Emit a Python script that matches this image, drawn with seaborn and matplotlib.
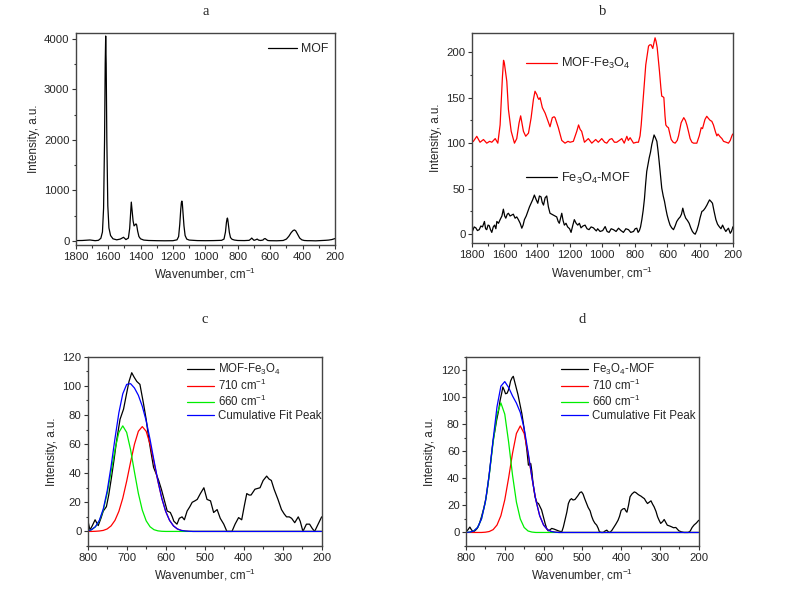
import matplotlib
matplotlib.use('Agg')
import matplotlib.pyplot as plt
from matplotlib.ticker import MultipleLocator, AutoMinorLocator
import seaborn as sns

# ---------- data ----------
# (a) MOF
mof_wn = [1800, 1760, 1712, 1680, 1660, 1645, 1635, 1628, 1622, 1618, 1615, 1612, 1608, 1602,
          1595, 1585, 1570, 1547, 1525, 1505, 1490, 1475, 1467, 1461, 1457, 1452, 1446, 1440,
          1434, 1428, 1424, 1418, 1410, 1400, 1380, 1350, 1300, 1250, 1200, 1175, 1165, 1158,
          1152, 1148, 1145, 1142, 1138, 1132, 1125, 1115, 1100, 1050, 1000, 950, 900, 885, 876,
          870, 866, 864, 862, 858, 852, 845, 835, 820, 800, 760, 730, 720, 714, 708, 700, 690,
          680, 672, 660, 645, 637, 631, 625, 615, 600, 560, 520, 500, 485, 470, 458, 450, 442,
          430, 418, 405, 390, 370, 350, 320, 290, 260, 240, 220, 210, 200]
mof_int = [10, 12, 22, 8, 15, 55, 180, 650, 2000, 3500, 4050, 3500, 2000, 700,
           260, 110, 45, 25, 40, 75, 30, 60, 250, 560, 770, 600, 400, 300,
           320, 340, 320, 200, 90, 45, 20, 12, 8, 6, 8, 25, 90, 330,
           620, 760, 790, 740, 560, 300, 110, 40, 20, 10, 8, 10, 15, 40, 180,
           370, 440, 455, 430, 330, 170, 70, 35, 20, 12, 10, 15, 40, 60, 40, 15, 25,
           40, 20, 12, 20, 45, 50, 35, 12, 8, 6, 12, 40, 95, 170, 210, 220, 200,
           130, 60, 25, 12, 8, 8, 5, 10, 15, 20, 30, 40, 50]

# (b) MOF-Fe3O4 (drawn shifted up by OFFSET) and Fe3O4-MOF
mof_fe_wn = [1800, 1790, 1769, 1749, 1728, 1708, 1690, 1677, 1656, 1640, 1626, 1612, 1605, 1600,
             1585, 1575, 1558, 1538, 1524, 1510, 1500, 1483, 1469, 1452, 1436, 1422, 1412, 1400,
             1395, 1388, 1381, 1367, 1350, 1334, 1320, 1306, 1295, 1289, 1269, 1248, 1228, 1210,
             1197, 1177, 1156, 1145, 1135, 1126, 1109, 1085, 1064, 1040, 1024, 1003, 985, 972,
             955, 941, 925, 911, 895, 880, 865, 849, 840, 829, 808, 790, 778, 768, 761, 747, 733,
             716, 708, 700, 690, 683, 676, 670, 663, 649, 640, 635, 628, 622, 615, 610, 602, 594,
             585, 577, 565, 553, 540, 532, 516, 500, 490, 481, 470, 461, 450, 440, 420, 405, 393,
             385, 379, 370, 359, 348, 338, 328, 318, 305, 297, 290, 277, 266, 256, 240, 226, 215,
             205, 200]
mof_fe_int = [1, 2, 7.5, 1, 4, 0, 2, 1, 5, 0, 20, 72, 91, 88,
              68, 37, 13, 0, 5, 22, 30, 13, 7.6, 11, 27.7, 47.8, 57, 53,
              50, 48, 50, 39, 33, 25, 18, 28, 29, 28, 17, 3, 0, 2,
              1, 2, 13, 20, 15, 13, 1, 5, 0, 4, 1, 5, 1, 0,
              4, 5, 1, 1, 3, 5, 0, 7.5, 3, 6, 0, 1, 1, 8, 20, 53, 86,
              106.6, 108, 108, 104, 110, 115.7, 112, 105, 79, 60, 51.6, 51, 50, 30, 20, 18, 17,
              10, 4, 1, 0, 3, 8, 22.5, 28, 25, 20, 12, 5, 1, 0, 0, 8, 17,
              16, 20, 26, 29.5, 27, 25, 24, 20, 12, 8, 10, 7, 5, 2, 1, 0, 3,
              8, 10]
OFFSET = 100

fe_mof_wn = [1800, 1796, 1785, 1775, 1765, 1754, 1744, 1734, 1722, 1715, 1708, 1700, 1693, 1685,
             1677, 1668, 1660, 1652, 1646, 1636, 1626, 1615, 1606, 1598, 1591, 1582, 1575, 1565,
             1555, 1545, 1534, 1524, 1514, 1503, 1493, 1485, 1477, 1466, 1456, 1446, 1436, 1426,
             1416, 1405, 1395, 1385, 1375, 1368, 1360, 1350, 1340, 1330, 1320, 1310, 1299, 1289,
             1279, 1270, 1263, 1255, 1248, 1240, 1232, 1222, 1212, 1200, 1191, 1180, 1171, 1160,
             1150, 1140, 1130, 1118, 1105, 1093, 1081, 1068, 1054, 1044, 1036, 1028, 1013, 997,
             982, 970, 958, 945, 931, 915, 900, 885, 870, 855, 839, 825, 808, 798, 788, 780, 772,
             765, 757, 749, 741, 734, 727, 720, 712, 704, 696, 689, 682, 674, 665, 658, 651, 643,
             635, 626, 618, 610, 602, 593, 584, 574, 563, 553, 543, 532, 522, 514, 506, 497, 488,
             477, 467, 457, 447, 438, 430, 420, 410, 400, 389, 380, 369, 358, 350, 342, 333, 324,
             314, 303, 293, 283, 272, 262, 252, 242, 234, 226, 215, 208, 201, 200]
fe_mof_int = [2, 3, 8, 7, 4, 5, 9, 8, 14, 6, 5, 10, 9.5, 5,
              2, 8, 10, 6, 14, 12, 16, 20, 27.5, 20, 17.6, 22, 23, 20,
              21, 22, 17.6, 19, 16, 12, 6.6, 10, 16, 20, 25, 30, 34, 38,
              43, 38, 34, 42, 41, 35, 32, 40, 42, 30, 23, 22, 21, 20,
              19, 14, 12, 18, 23, 15, 10, 12, 8, 6, 2, 10, 16, 12,
              10, 12, 7, 9, 10, 6, 5, 8, 7, 5, 3.6, 6, 3, 4,
              8.4, 3, 2, 6, 5, 3, 6.6, 4, 2, 6, 5, 2, 3, 6, 6.6, 2, 4,
              8, 16, 26, 39, 55, 69, 76, 83.8, 90, 98.5, 104, 109, 106, 102, 92, 80, 65,
              50.6, 42, 36, 28, 21, 15, 10, 7, 5, 9, 14, 17, 19, 22, 28.6, 22, 17.6,
              15, 12, 7, 3, 1, 0, 4, 10, 18, 25, 26, 28.6, 32, 35, 37.7, 36, 34,
              25, 16, 11, 8.4, 6, 10, 6, 3, 5, 6.6, 1, 3, 6.6, 8]

# (c) MOF-Fe3O4, 200-800 region with fitted peaks
c_wn = [800, 794, 788, 781, 773, 766, 760, 752, 746, 739, 732, 726, 717, 708, 700, 694, 687,
        681, 674, 666, 657, 650, 644, 638, 631, 625, 618, 611, 605, 596, 588, 583, 579, 571,
        565, 558, 552, 545, 538, 532, 525, 519, 511, 502, 494, 485, 477, 468, 460, 451, 443,
        436, 430, 422, 413, 405, 398, 392, 386, 381, 371, 358, 350, 341, 335, 329, 322, 312,
        303, 296, 290, 283, 277, 269, 260, 255, 248, 239, 231, 224, 218, 209, 200]
c_int = [8, 1, 4, 8, 4, 9, 14, 17, 25, 37, 50, 62, 77, 84, 95, 103, 109,
         106, 103, 101, 88, 77, 65, 55, 44, 40, 35, 29, 23, 14, 13, 10, 7, 5,
         9, 10, 8, 14, 17, 20, 21, 22, 26, 30, 22, 21, 13, 15, 9, 5, 0,
         0, 0, 5, 9.5, 8, 18, 26, 25, 25, 29, 30, 35, 38, 36, 35, 29, 22,
         15, 12, 10, 10, 9, 6, 10, 7, 0, 5, 5, 2, 0, 5, 10]

fit_wn = [800, 790, 780, 770, 760, 750, 740, 730, 720, 710, 700, 690, 680, 670, 660, 650,
          640, 630, 620, 610, 600, 590, 580, 570, 560, 550, 540, 530, 200]
c_red = [0, 0, 0.1, 0.3, 0.7, 1.7, 3.8, 7.6, 13.8, 22.8, 34.5, 47.6, 59.9, 68.8, 72, 68.8,
         59.9, 47.6, 34.5, 22.8, 13.8, 7.6, 3.8, 1.7, 0.7, 0.3, 0.1, 0, 0]
c_green = [0.3, 1.2, 3.2, 7.3, 14.7, 26.1, 40.8, 56.2, 68.0, 72.5, 68.0, 56.2, 40.8, 26.1, 14.7, 7.3,
           3.2, 1.2, 0.4, 0.1, 0, 0, 0, 0, 0, 0, 0, 0, 0]
c_blue = [0.3, 1.2, 3.3, 7.6, 15.4, 27.8, 44.6, 63.8, 81.5, 94.5, 101, 101.5, 98.5, 93.5, 86, 76,
          63.1, 48.8, 34.9, 22.9, 13.8, 7.6, 3.8, 1.7, 0.7, 0.3, 0.1, 0, 0]

# (d) Fe3O4-MOF with fitted peaks
d_wn = [800, 795, 790, 786, 781, 776, 771, 766, 760, 754, 748, 743, 738, 734, 730, 725, 721,
        716, 712, 708, 705, 701, 698, 694, 691, 688, 685, 681, 678, 675, 671, 666, 661, 656,
        652, 647, 643, 639, 636, 633, 630, 628, 625, 622, 617, 613, 609, 605, 600, 596, 592,
        588, 583, 579, 573, 566, 560, 553, 549, 545, 540, 536, 532, 528, 524, 519, 512, 506,
        502, 498, 494, 489, 485, 480, 476, 472, 468, 463, 459, 456, 451, 446, 442, 437, 433,
        429, 424, 419, 414, 408, 404, 400, 395, 391, 388, 385, 381, 377, 372, 366, 362, 357,
        353, 349, 345, 340, 336, 332, 327, 323, 319, 315, 310, 306, 302, 298, 293, 289, 285,
        281, 275, 270, 265, 259, 255, 251, 245, 238, 233, 227, 222, 217, 212, 206, 200]
d_int = [0.5, 2, 4, 2, 0.5, 1.5, 3, 6, 11.6, 18, 26, 36, 48.5, 58, 68, 76, 83,
         90, 97.8, 103, 107.6, 105, 102.6, 103, 105, 108, 112, 114.5, 115.5, 112, 107.6, 102, 95, 88,
         80.5, 70, 60.8, 49.8, 50, 51, 45, 38.7, 32, 26.4, 22, 21.4, 19, 16.6, 11, 6.7, 3,
         1.2, 2, 3, 2.5, 1.7, 1, 0.5, 4, 9, 15, 21.4, 24, 25, 24, 24.4, 27, 29.6,
         30, 28.3, 25, 21.4, 18.5, 16, 12, 9, 7, 5.4, 3, 0.5, 0, 0, 1, 1.7, 0.5,
         0, 1.5, 3.7, 6, 9, 12, 16.3, 17.5, 17.7, 16, 15, 20, 26.4, 28.5, 30, 29.5, 28.3,
         27.5, 26.9, 26, 25, 23, 21.4, 22.5, 23.4, 21, 19, 15.5, 11.6, 9, 6.7, 8, 9.6, 7.5,
         5.4, 4.8, 4.2, 3.5, 3.7, 2.5, 1.2, 0.5, 0, 0, 0, 1, 3.7, 5.5, 7, 9]
d_red = [0, 0, 0, 0, 0, 0.2, 0.7, 2.1, 5.5, 12.4, 24.1, 40.5, 58.6, 73.2, 78.8, 73.2,
         58.6, 40.5, 24.1, 12.4, 5.5, 2.1, 0.7, 0.2, 0, 0, 0, 0, 0]
d_green = [0, 0.3, 1.1, 3.7, 10.0, 22.5, 42.4, 66.7, 87.5, 95.8, 87.5, 66.7, 42.4, 22.5, 10.0, 3.7,
           1.1, 0.3, 0, 0, 0, 0, 0, 0, 0, 0, 0, 0, 0]
d_blue = [0, 0.3, 1.1, 3.7, 10.0, 22.7, 43.1, 68.8, 93.0, 108.2, 111.6, 107.2, 101.0, 95.7, 88.8, 76.9,
          59.7, 40.8, 24.1, 12.4, 5.5, 2.1, 0.7, 0.2, 0, 0, 0, 0, 0]

# ---------- style ----------
sns.set_style('ticks')
plt.rcParams['font.family'] = ['Liberation Sans', 'DejaVu Sans']
plt.rcParams['mathtext.fontset'] = 'custom'
plt.rcParams['mathtext.rm'] = 'Liberation Sans'
plt.rcParams['mathtext.it'] = 'Liberation Sans:italic'

FE = 'Fe$\\mathregular{_3}$O$\\mathregular{_4}$'
CM = 'cm$\\mathregular{^{-1}}$'
LW = 0.9
TICK_FS = 8.2
LABEL_FS = 8.4
LEG_FS = 8.3


def style_axes(ax, xlim, ylim, xmaj, ymaj, title, title_pad):
    ax.set_xlim(*xlim)
    ax.set_ylim(*ylim)
    ax.xaxis.set_major_locator(MultipleLocator(xmaj))
    ax.yaxis.set_major_locator(MultipleLocator(ymaj))
    ax.xaxis.set_minor_locator(AutoMinorLocator(2))
    ax.yaxis.set_minor_locator(AutoMinorLocator(2))
    ax.tick_params(which='both', direction='out', top=False, right=False,
                   labelsize=TICK_FS, width=0.8, color='#333333')
    ax.tick_params(which='major', length=3)
    ax.tick_params(which='minor', length=1.8)
    ax.tick_params(axis='y', pad=1.5)
    ax.tick_params(axis='x', pad=2)
    for s in ax.spines.values():
        s.set_color('#444444')
        s.set_linewidth(1.0)
    ax.set_xlabel('Wavenumber, ' + CM, fontsize=LABEL_FS, labelpad=3)
    ax.set_ylabel('Intensity, a.u.', fontsize=LABEL_FS, labelpad=3)
    ax.set_title(title, fontsize=10.5, family='Liberation Serif', pad=title_pad)


def add_legend(ax, handles, labels, x, y, fs=LEG_FS, spacing=0.08):
    # x, y: axes fraction of the first handle's left end / top of the first row
    leg = ax.legend(handles, labels, loc='upper left', bbox_to_anchor=(x, y),
                    frameon=False, fontsize=fs, handlelength=2.4, handletextpad=0.3,
                    borderpad=0, borderaxespad=0, labelspacing=spacing)
    return leg


fig = plt.figure(figsize=(7.87, 5.90), dpi=100)
ax_a = fig.add_axes([0.0962, 0.5845, 0.3295, 0.3596])
ax_b = fig.add_axes([0.5994, 0.5876, 0.3316, 0.3565])
ax_c = fig.add_axes([0.1114, 0.0746, 0.2973, 0.3208])
ax_d = fig.add_axes([0.5921, 0.0746, 0.2957, 0.3208])

# (a)
sns.lineplot(x=mof_wn, y=mof_int, ax=ax_a, color='black', lw=LW, sort=False,
             estimator=None, legend=False)
style_axes(ax_a, (1800, 200), (-80, 4110), 200, 1000, 'a', 13)
add_legend(ax_a, ax_a.get_lines()[:1], ['MOF'], 0.742, 0.952, fs=8.8)

# (b)
mof_fe_shifted = [v + OFFSET for v in mof_fe_int]
sns.lineplot(x=mof_fe_wn, y=mof_fe_shifted, ax=ax_b, color='red', lw=LW, sort=False,
             estimator=None, legend=False)
sns.lineplot(x=fe_mof_wn, y=fe_mof_int, ax=ax_b, color='black', lw=LW, sort=False,
             estimator=None, legend=False)
style_axes(ax_b, (1800, 200), (-10, 221), 200, 50, 'b', 13)
red_line, black_line = ax_b.get_lines()[:2]
leg1 = add_legend(ax_b, [red_line], ['MOF-' + FE], 0.208, 0.89, fs=9.2)
ax_b.add_artist(leg1)
add_legend(ax_b, [black_line], [FE + '-MOF'], 0.208, 0.345, fs=9.2)

# (c)
sns.lineplot(x=c_wn, y=c_int, ax=ax_c, color='black', lw=LW, sort=False,
             estimator=None, label='MOF-' + FE)
sns.lineplot(x=fit_wn, y=c_red, ax=ax_c, color='red', lw=LW, sort=False,
             estimator=None, label='710 ' + CM)
sns.lineplot(x=fit_wn, y=c_green, ax=ax_c, color='#00ee00', lw=LW, sort=False,
             estimator=None, label='660 ' + CM)
sns.lineplot(x=fit_wn, y=c_blue, ax=ax_c, color='blue', lw=LW, sort=False,
             estimator=None, label='Cumulative Fit Peak')
style_axes(ax_c, (800, 200), (-10, 120), 100, 20, 'c', 24.5)
h, l = ax_c.get_legend_handles_labels()
add_legend(ax_c, h, l, 0.423, 0.972)

# (d)
sns.lineplot(x=d_wn, y=d_int, ax=ax_d, color='black', lw=LW, sort=False,
             estimator=None, label=FE + '-MOF')
sns.lineplot(x=fit_wn, y=d_red, ax=ax_d, color='red', lw=LW, sort=False,
             estimator=None, label='710 ' + CM)
sns.lineplot(x=fit_wn, y=d_green, ax=ax_d, color='#00ee00', lw=LW, sort=False,
             estimator=None, label='660 ' + CM)
sns.lineplot(x=fit_wn, y=d_blue, ax=ax_d, color='blue', lw=LW, sort=False,
             estimator=None, label='Cumulative Fit Peak')
style_axes(ax_d, (800, 200), (-10, 130), 100, 20, 'd', 24.5)
h, l = ax_d.get_legend_handles_labels()
add_legend(ax_d, h, l, 0.407, 0.972)

fig.savefig('out.png', dpi=100)
